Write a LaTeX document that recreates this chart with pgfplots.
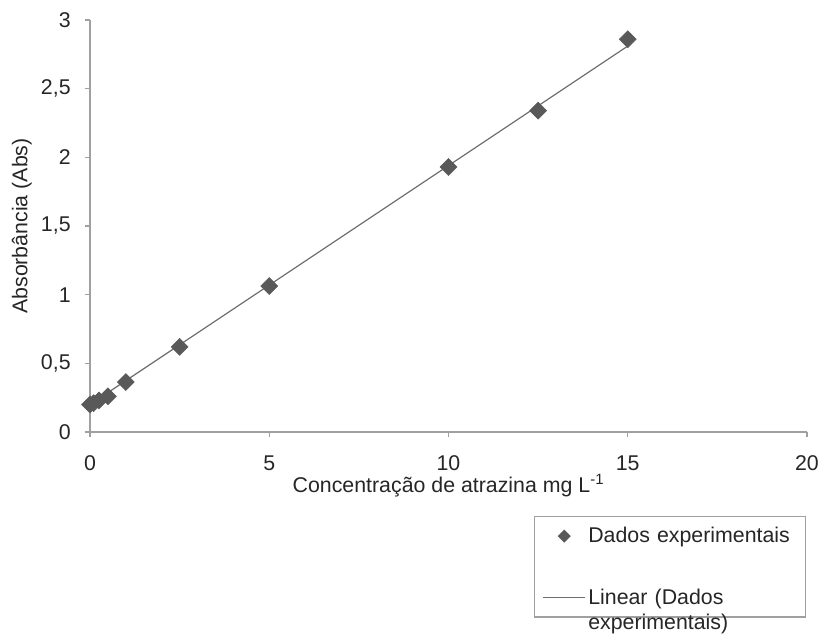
\documentclass[border=0pt]{standalone}
\usepackage{pgfplots}
\pgfplotsset{compat=1.18}
\usepackage{fontspec}
\setmainfont{Liberation Sans}
\definecolor{axgray}{RGB}{160,160,160}
\definecolor{mk}{RGB}{89,89,89}
\definecolor{ln}{RGB}{110,110,110}
\pgfplotsset{
  mklegend/.style={legend image code/.code={\draw[##1, mark size=3pt] plot coordinates {(16pt,5pt)};}},
  lnlegend/.style={legend image code/.code={\draw[##1] (0pt,5pt) -- (31.5pt,5pt);}},
}
\begin{document}
\begin{tikzpicture}
\path[use as bounding box] (0,0) rectangle (616.5pt,-477.75pt);
\begin{axis}[
  at={(67.5pt,-324pt)}, anchor=south west,
  scale only axis, width=537.75pt, height=309pt,
  xmin=0, xmax=20, ymin=0, ymax=3,
  axis lines*=left,
  axis line style={draw=axgray, line width=0.9pt},
  every tick/.style={draw=axgray, line width=0.9pt},
  tick align=outside, major tick length=4pt,
  xtick={0,5,10,15,20}, ytick={0,0.5,1,1.5,2,2.5,3},
  /pgf/number format/use comma, /pgf/number format/assume math mode=true,
  ticklabel style={font=\fontsize{16}{19}\selectfont, text=black!85},
  xticklabel style={yshift=-10pt},
  yticklabel style={xshift=-7pt},
  xlabel={Concentração de atrazina mg L\textsuperscript{-1}},
  ylabel={Absorbância (Abs)},
  label style={font=\fontsize{16}{19}\selectfont, text=black!85},
  xlabel style={yshift=4pt},
  legend style={at={(rel axis cs:0.619,-0.204)}, anchor=north west,
    draw=axgray, line width=0.9pt, font=\fontsize{16}{19}\selectfont,
    text=black!85, row sep=29pt, inner xsep=6pt, inner ysep=6pt,
    nodes={text width=155pt, align=left, anchor=base west}},
  legend cell align=left,
]
\addplot[only marks, mark=square*, mark size=4.5pt, mark options={rotate=45}, draw=mk, fill=mk, mklegend]
  coordinates {
  (0,0.20) (0.1,0.21) (0.25,0.23) (0.5,0.26) (1,0.364) (2.5,0.62)
  (5,1.063) (10,1.93) (12.5,2.34) (15,2.86)};
\addlegendentry{Dados experimentais}
\addplot[ln, line width=0.9pt, no marks, lnlegend]
  coordinates {(0,0.20) (15,2.81)};
\addlegendentry{Linear (Dados\\experimentais)}
\end{axis}
\end{tikzpicture}
\end{document}
